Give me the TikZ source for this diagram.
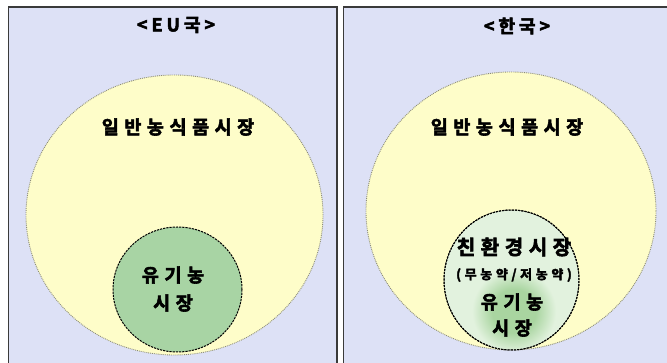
\documentclass[tikz,border=0pt]{standalone}
\usepackage{fontspec}
\newfontfamily\kr[BoldFont={Noto Sans CJK KR Bold}, BoldFeatures={FakeBold=3}]{Noto Sans CJK KR}
\usetikzlibrary{shapes.geometric}
\definecolor{panelbg}{HTML}{DDE1F6}
\definecolor{panelline}{HTML}{3A3A3A}
\definecolor{yell}{HTML}{FEFDC9}
\definecolor{dotc}{HTML}{8C8C78}
\definecolor{orgg}{HTML}{A8D4A4}
\definecolor{ringg}{HTML}{E2F2DE}
\definecolor{blobg}{HTML}{A9D5A0}
\pgfdeclareradialshading{blobshade}{\pgfpoint{0bp}{0bp}}{color(0bp)=(blobg); color(13bp)=(blobg); color(25bp)=(ringg); color(50bp)=(ringg)}
\tikzset{
  panel/.style={draw=panelline, line width=1.8pt, fill=panelbg},
  market/.style={ellipse, draw=dotc, densely dotted, line width=0.9pt, fill=yell, inner sep=0pt},
  organic/.style={ellipse, draw=black, dash pattern=on 2.2pt off 1pt, line width=1pt, fill=orgg, inner sep=0pt},
  eco/.style={ellipse, draw=black, dash pattern=on 2.2pt off 1pt, line width=1pt, fill=ringg, inner sep=0pt},
  title/.style={font=\kr\bfseries\fontsize{18}{20}\selectfont\addfontfeature{LetterSpace=22}, inner sep=0pt},
  lbl/.style={font=\kr\bfseries\fontsize{18.5}{20}\selectfont\addfontfeature{LetterSpace=30}, inner sep=0pt, align=center},
  eclbl/.style={font=\kr\bfseries\fontsize{20}{22}\selectfont\addfontfeature{LetterSpace=28}, inner sep=0pt},
  small/.style={font=\kr\bfseries\fontsize{13}{15}\selectfont\addfontfeature{LetterSpace=28}, inner sep=0pt}
}
\begin{document}
\begin{tikzpicture}[x=1pt,y=-1pt]
\useasboundingbox (0,0) rectangle (667,363);
\fill[white] (0,0) rectangle (667,363);
% panels
\draw[panel] (8.5,7) rectangle (337,375);
\draw[panel] (343.5,7) rectangle (680,375);
% left panel
\node[title] (eu) at (176,25) {<EU국>};
\node[market, minimum width=297pt, minimum height=280pt] (eumkt) at (174.5,215) {};
\node[organic, minimum width=129pt, minimum height=125pt] (euorg) at (177.5,289.5) {};
\node[lbl] (eumkttxt) at (178,127) {일반농식품시장};
\node[lbl] (euorgtxt1) at (173,275) {유기농};
\node[lbl] (euorgtxt2) at (173,303) {시장};
% right panel
\node[title] (kr) at (517,26) {<한국>};
\node[market, minimum width=290pt, minimum height=278pt] (krmkt) at (511,211) {};
\node[eco, minimum width=135pt, minimum height=140pt] (kreco) at (511.5,280) {};
\begin{scope}
  \clip (kreco.center) ellipse [x radius=67pt, y radius=69.5pt];
  \shade[shading=blobshade] (514,311) circle (42pt);
\end{scope}
\draw[black, dash pattern=on 2.2pt off 1pt, line width=1pt] (kreco.center) ellipse [x radius=67.5pt, y radius=70pt];
\node[lbl] (krmkttxt) at (507,127) {일반농식품시장};
\node[eclbl] (krecotxt) at (514,247) {친환경시장};
\node[small] (krsub) at (514,275) {(무농약/저농약)};
\node[lbl] (krorgtxt1) at (512,302) {유기농};
\node[lbl] (krorgtxt2) at (512,328) {시장};
\end{tikzpicture}
\end{document}
